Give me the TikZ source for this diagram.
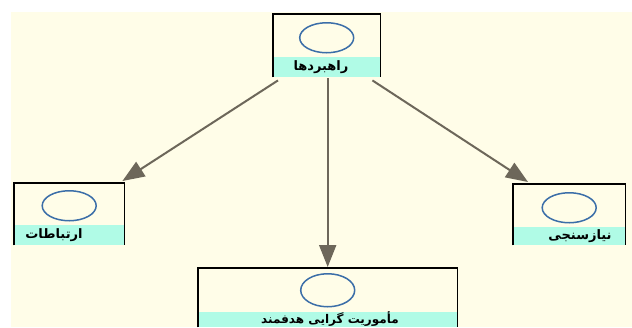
\documentclass[tikz,border=0pt]{standalone}
\usepackage{fontspec}
\usepackage{xcolor}
\usetikzlibrary{positioning, arrows.meta, shapes.geometric}
\TeXXeTstate=1
\newfontfamily\arabicfont[Script=Arabic]{DejaVu Sans}

\definecolor{cream}{HTML}{FFFDE8}
\definecolor{aqua}{HTML}{B0FBE6}
\definecolor{ringblue}{HTML}{3B6EA8}
\definecolor{linkgray}{HTML}{6D675A}

\begin{document}
\begin{tikzpicture}[x=1pt,y=-1pt,
  box/.style={fill=cream,inner sep=0pt,anchor=north west},
  bar/.style={fill=aqua,inner sep=0pt,anchor=south},
  ring/.style={draw=ringblue,line width=1.5pt,ellipse,inner sep=0pt,
    minimum width=54pt,minimum height=30pt},
  frame/.style={line width=1.4pt,black},
  link/.style={draw=linkgray,line width=2pt,-{Triangle[length=22pt,width=17pt]}},
  caption/.style={font=\arabicfont\bfseries\fontsize{13}{15}\selectfont,inner sep=0pt}
]
\useasboundingbox (0,0) rectangle (632,327);
\fill[white] (0,0) rectangle (632,327);
\fill[cream] (11,12) rectangle (632,327);

% boxes
\node[box,minimum width=107pt,minimum height=63pt] (rahbord) at (273,14) {};
\node[box,minimum width=110pt,minimum height=62pt] (ertebat) at (14,183) {};
\node[box,minimum width=112pt,minimum height=61pt] (niaz) at (513,184) {};
\node[box,minimum width=259pt,minimum height=59pt] (mamuriat) at (198,268) {};

% label bars
\node[bar,minimum width=107pt,minimum height=20pt] (rahbordbar) at (rahbord.south) {};
\node[bar,minimum width=110pt,minimum height=20pt] (ertebatbar) at (ertebat.south) {};
\node[bar,minimum width=112pt,minimum height=18pt] (niazbar) at (niaz.south) {};
\node[bar,minimum width=259pt,minimum height=15pt] (mamuriatbar) at (mamuriat.south) {};

% frames, open below
\foreach \b in {rahbord,ertebat,niaz,mamuriat}
  \draw[frame] (\b.south west) -- (\b.north west) -- (\b.north east) -- (\b.south east);

% rings
\node[ring,below=8pt of rahbord.north] (rahbordring) {};
\node[ring,below=7pt of ertebat.north] (ertebatring) {};
\node[ring,below=8pt of niaz.north] (niazring) {};
\node[ring,below=5pt of mamuriat.north,minimum height=33pt] (mamuriatring) {};

% captions
\node[caption] (rahbordtext) at (321,67) {\beginR راهبردها\endR};
\node[caption] (ertebattext) at (54,235) {\beginR ارتباطات\endR};
\node[caption] (niaztext) at (580,236) {\beginR نیازسنجی\endR};
\node[caption,font=\arabicfont\bfseries\fontsize{12}{14}\selectfont] (mamuriattext) at (330,319) {\beginR مأموریت گرایی هدفمند\endR};

% links
\draw[link] ([xshift=5pt,yshift=-3pt]rahbord.south west) -- ([xshift=-2pt,yshift=2pt]ertebat.north east);
\draw[link] ([xshift=1pt,yshift=-1pt]rahbord.south) -- ([yshift=1pt]mamuriat.north);
\draw[link] ([xshift=-8pt,yshift=-3pt]rahbord.south east) -- ([xshift=15pt,yshift=2pt]niaz.north west);
\end{tikzpicture}
\end{document}
